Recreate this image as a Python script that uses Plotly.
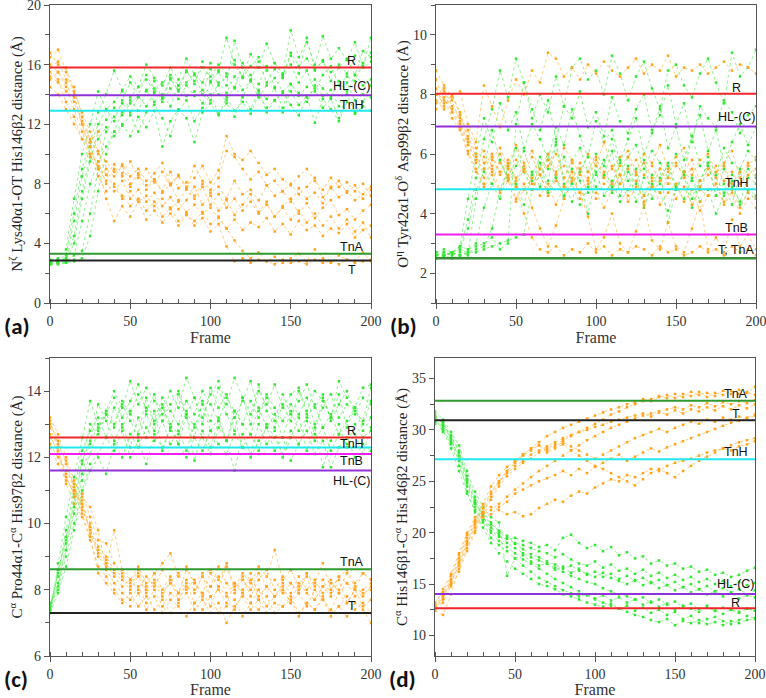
import plotly.graph_objects as go

# frames sampled every 5 steps
frames = list(range(0, 201, 5))

# ---- panel (a): NZ Lys40a1 - OT His146b2 ----
a_green = [
    [2.7, 2.8, 3.0, 5.5, 8.5, 10.5, 12.0, 13.0, 13.5, 14.2, 13.8, 14.5, 15.0, 14.2, 14.8, 15.3, 14.6, 15.5, 14.9, 15.8, 15.2, 16.0, 15.4, 16.3, 15.1, 15.9, 16.5, 15.6, 16.1, 15.3, 16.8, 15.9, 16.4, 15.7, 16.2, 15.5, 16.0, 15.4, 16.6, 15.8, 16.2],
    [2.6, 2.7, 2.9, 4.0, 7.0, 9.5, 11.5, 12.3, 13.1, 12.6, 13.4, 13.9, 13.2, 14.1, 13.5, 14.4, 13.7, 14.6, 13.9, 14.3, 13.6, 14.8, 14.1, 15.2, 14.3, 14.9, 13.8, 14.6, 15.1, 14.2, 14.7, 13.9, 14.5, 15.0, 14.4, 13.8, 14.9, 14.2, 15.3, 14.6, 15.0],
    [2.8, 2.9, 3.2, 6.0, 9.0, 10.8, 12.8, 14.0, 15.6, 14.3, 15.2, 14.5, 16.0, 15.1, 14.6, 15.8, 15.0, 16.4, 15.3, 14.8, 16.1, 15.6, 17.8, 16.0, 15.2, 16.7, 15.8, 17.4, 16.1, 15.4, 18.3, 16.5, 17.5, 16.0, 17.9, 16.4, 17.1, 16.3, 17.5, 15.9, 17.8],
    [2.7, 2.7, 2.8, 3.2, 5.5, 8.0, 9.5, 10.5, 11.5, 12.0, 11.2, 12.5, 11.8, 12.9, 10.5, 12.2, 13.0, 12.4, 10.8, 12.8, 13.4, 12.6, 13.8, 12.9, 13.5, 12.7, 14.0, 13.1, 13.6, 12.8, 14.2, 13.3, 13.9, 12.1, 13.7, 13.0, 12.2, 13.5, 12.7, 13.2, 12.9],
    [2.6, 2.7, 2.7, 2.9, 3.5, 6.0, 9.0, 11.5, 12.5, 13.4, 12.8, 13.8, 14.3, 13.5, 14.0, 13.2, 14.6, 13.9, 14.2, 13.4, 14.8, 14.0, 13.6, 14.5, 13.8, 14.9, 14.2, 13.7, 14.4, 13.1, 14.7, 14.1, 13.5, 14.6, 13.9, 14.3, 13.2, 14.8, 13.6, 14.0, 13.8],
    [2.9, 3.0, 3.6, 7.0, 10.0, 12.0, 14.2, 13.0, 12.2, 13.6, 14.8, 13.9, 15.3, 14.4, 13.8, 15.1, 14.2, 15.6, 14.7, 16.2, 14.9, 15.5, 14.6, 17.6, 15.8, 15.0, 16.2, 14.8, 15.7, 15.2, 16.6, 15.4, 17.8, 15.6, 16.3, 14.9, 15.8, 16.4, 15.3, 16.9, 16.5],
    [2.7, 2.8, 3.0, 4.5, 7.5, 9.8, 11.0, 11.8, 11.2, 11.9, 12.6, 11.5, 12.8, 13.3, 12.4, 11.2, 12.9, 13.6, 12.2, 13.1, 14.0, 12.7, 13.4, 12.5, 13.9, 13.0, 14.3, 12.8, 13.6, 14.1, 13.3, 12.6, 13.8, 14.4, 13.1, 13.7, 12.4, 14.0, 12.8, 13.5, 14.6],
    [2.6, 2.6, 2.7, 2.8, 3.0, 4.5, 7.5, 10.0, 11.5, 12.8, 13.6, 12.9, 14.2, 14.9, 13.7, 15.0, 14.3, 14.8, 15.4, 14.0, 15.7, 14.6, 15.2, 14.4, 16.1, 15.3, 14.7, 15.9, 14.5, 15.1, 16.0, 14.8, 15.6, 14.2, 15.3, 15.9, 14.6, 15.2, 14.9, 16.1, 16.8],
]
a_orange = [
    [16.5, 17.0, 15.5, 14.0, 12.0, 10.5, 9.0, 8.2, 9.0, 8.5, 7.8, 8.6, 7.9, 8.3, 7.5, 8.8, 7.7, 8.1, 7.2, 8.0, 7.4, 7.8, 7.0, 8.2, 7.3, 7.6, 6.9, 7.9, 7.2, 7.5, 6.8, 7.7, 7.0, 7.4, 6.7, 7.8, 7.1, 7.5, 6.9, 7.3, 7.8],
    [15.0, 15.5, 14.5, 13.0, 11.5, 10.0, 9.5, 8.0, 7.5, 8.2, 7.0, 7.6, 6.8, 7.4, 6.5, 7.1, 6.3, 6.9, 7.8, 6.6, 7.2, 6.2, 6.9, 5.9, 6.6, 7.3, 6.1, 6.8, 5.8, 6.5, 7.0, 6.0, 6.7, 5.7, 6.4, 6.9, 5.9, 6.3, 5.6, 6.2, 6.6],
    [15.8, 16.2, 15.0, 14.5, 12.5, 11.0, 10.0, 9.5, 8.8, 9.3, 8.5, 9.0, 8.2, 8.7, 9.4, 8.0, 8.6, 7.8, 8.4, 9.2, 8.1, 8.9, 11.2, 10.0, 9.6, 10.2, 9.4, 8.6, 9.0, 8.3, 7.9, 8.5, 9.0, 8.2, 7.6, 8.4, 7.8, 8.1, 7.5, 8.0, 7.2],
    [14.5, 14.0, 13.0, 12.0, 11.0, 10.5, 9.0, 7.0, 5.5, 6.5, 5.8, 6.8, 5.6, 6.2, 5.4, 6.0, 5.2, 5.9, 5.5, 6.1, 5.3, 5.8, 5.0, 5.6, 4.9, 5.4, 5.1, 5.7, 4.8, 5.3, 4.6, 5.5, 4.9, 5.2, 4.5, 5.0, 4.7, 5.3, 4.4, 4.9, 5.2],
    [16.0, 15.5, 14.8, 13.5, 12.0, 10.0, 8.5, 7.5, 8.0, 7.2, 6.5, 7.0, 6.2, 6.8, 5.8, 6.4, 5.5, 6.0, 5.2, 5.7, 4.8, 5.3, 3.8, 2.8, 3.0, 2.7, 2.9, 2.8, 2.6, 2.9, 2.7, 2.8, 2.6, 2.9, 2.7, 2.8, 2.6, 2.9, 2.7, 2.8, 2.9],
    [15.2, 14.8, 14.2, 13.8, 12.2, 10.8, 11.5, 9.0, 8.5, 9.2, 8.0, 8.7, 7.6, 8.3, 7.4, 8.0, 6.9, 7.6, 7.0, 7.8, 6.6, 7.3, 6.4, 7.0, 6.2, 6.8, 6.0, 6.6, 5.8, 6.4, 5.6, 6.2, 5.4, 6.0, 5.2, 5.8, 5.0, 5.6, 4.8, 5.4, 4.4],
    [16.8, 16.0, 15.8, 14.2, 12.8, 11.5, 10.2, 8.6, 7.8, 7.0, 7.5, 6.8, 7.2, 6.5, 7.0, 6.3, 6.8, 6.1, 6.6, 6.0, 6.4, 5.7, 5.0, 4.2, 3.5, 3.0, 3.4, 2.8, 3.1, 2.7, 3.0, 3.3, 2.8, 3.6, 3.0, 2.7, 3.2, 2.9, 2.8, 3.4, 2.8],
    [15.5, 15.0, 13.5, 12.5, 11.0, 9.8, 9.2, 8.6, 9.3, 8.7, 9.5, 8.4, 9.0, 8.1, 8.8, 7.9, 8.5, 7.7, 9.2, 8.2, 7.6, 8.4, 10.2, 9.8, 9.0, 8.3, 8.8, 7.9, 8.2, 7.5, 8.0, 7.3, 7.8, 8.4, 7.1, 7.7, 8.2, 7.4, 7.9, 7.0, 7.6],
]
a_ref_names = ["R", "HL-(C)", "TnH", "TnA", "T"]
a_ref_values = [15.8, 13.95, 12.9, 3.3, 2.85]

# ---- panel (b): OH Tyr42a1 - OD Asp99b2 ----
b_green = [
    [2.6, 2.7, 2.6, 2.8, 3.5, 4.8, 5.4, 5.0, 5.8, 5.2, 4.9, 5.5, 5.1, 5.7, 4.8, 5.3, 5.9, 5.0, 5.4, 4.7, 5.6, 5.2, 4.9, 5.8, 5.1, 5.5, 4.6, 5.3, 5.0, 5.7, 4.9, 5.4, 5.1, 4.8, 5.6, 5.2, 4.7, 5.3, 5.0, 5.5, 5.2],
    [2.5, 2.6, 2.7, 2.6, 2.7, 2.8, 2.9, 3.5, 4.8, 5.5, 6.2, 5.4, 4.8, 5.7, 5.1, 6.3, 5.0, 4.4, 5.5, 5.9, 4.9, 5.3, 6.1, 4.6, 5.4, 5.0, 5.8, 4.5, 5.2, 5.6, 4.8, 5.3, 4.2, 5.1, 5.7, 4.6, 5.5, 4.9, 4.4, 5.2, 5.0],
    [2.6, 2.6, 2.7, 2.8, 3.8, 5.2, 6.5, 7.5, 8.8, 7.9, 9.2, 8.4, 7.2, 8.0, 7.4, 8.6, 7.6, 8.9, 9.2, 8.5, 8.8, 8.0, 9.3, 8.7, 7.8, 8.6, 9.1, 8.2, 7.5, 8.8, 9.0, 8.3, 7.9, 8.7, 9.2, 8.4, 7.7, 9.4, 8.6, 8.9, 9.5],
    [2.7, 2.6, 2.7, 2.9, 2.8, 3.0, 4.2, 5.0, 4.5, 5.6, 5.0, 4.3, 5.4, 4.9, 6.0, 5.2, 4.6, 5.5, 5.1, 4.0, 5.3, 5.8, 4.7, 5.0, 5.6, 4.4, 5.2, 4.9, 5.5, 3.7, 4.8, 5.4, 4.5, 5.1, 5.7, 4.6, 5.0, 4.3, 5.4, 4.8, 4.6],
    [2.5, 2.6, 2.5, 2.6, 2.8, 2.9, 3.0, 3.2, 2.8, 3.0, 7.0, 8.4, 7.5, 6.8, 7.8, 6.5, 7.6, 7.2, 8.1, 6.9, 7.4, 6.6, 7.9, 7.1, 6.7, 7.5, 8.0, 6.8, 7.3, 8.3, 7.0, 7.7, 6.4, 7.6, 7.2, 6.9, 7.8, 7.4, 6.7, 7.3, 7.6],
    [2.6, 2.7, 2.6, 2.7, 2.6, 4.5, 5.5, 6.8, 5.8, 5.1, 5.6, 6.1, 5.3, 5.9, 5.5, 6.4, 5.2, 5.8, 6.2, 5.4, 6.0, 5.6, 6.5, 5.3, 5.9, 6.3, 5.5, 6.1, 5.7, 5.2, 6.0, 5.4, 6.6, 5.6, 5.9, 5.3, 6.2, 5.7, 5.5, 6.1, 5.8],
    [2.5, 2.6, 2.7, 2.6, 2.7, 2.7, 2.8, 2.9, 3.0, 3.1, 3.2, 3.3, 4.8, 5.3, 4.7, 5.2, 4.5, 5.0, 4.3, 4.9, 5.4, 4.6, 5.1, 4.4, 4.8, 5.3, 4.2, 5.0, 4.7, 4.1, 4.9, 4.5, 5.2, 4.4, 4.8, 4.0, 4.6, 5.1, 4.3, 4.7, 4.5],
    [2.7, 2.8, 2.7, 2.9, 4.5, 6.0, 7.2, 6.4, 7.7, 6.8, 7.4, 6.2, 7.0, 6.5, 5.8, 6.9, 6.3, 7.5, 6.6, 5.9, 7.1, 6.4, 6.8, 5.7, 6.5, 7.2, 6.0, 6.7, 7.6, 6.2, 6.9, 5.8, 6.6, 7.3, 6.1, 6.8, 5.6, 6.4, 7.0, 6.3, 6.9],
]
b_orange = [
    [8.5, 7.8, 7.5, 7.0, 6.3, 5.8, 5.5, 5.9, 5.3, 5.7, 5.2, 5.6, 5.0, 5.5, 5.8, 5.3, 5.6, 5.1, 5.7, 5.4, 5.9, 5.2, 5.6, 5.0, 5.5, 5.8, 5.3, 5.6, 5.1, 5.4, 5.7, 5.2, 5.5, 4.9, 5.3, 5.6, 5.1, 5.4, 5.0, 5.3, 5.5],
    [8.0, 8.2, 7.6, 7.2, 6.8, 6.2, 5.7, 6.0, 5.4, 5.8, 5.1, 5.5, 4.8, 5.3, 4.6, 5.1, 4.9, 5.4, 4.7, 5.2, 4.5, 5.0, 4.8, 5.3, 4.6, 5.1, 4.4, 4.9, 4.7, 5.2, 4.5, 4.9, 4.3, 4.8, 4.6, 5.0, 4.4, 4.8, 4.2, 4.7, 4.5],
    [7.8, 7.5, 8.0, 7.3, 6.5, 5.9, 6.1, 5.6, 6.0, 5.5, 4.9, 4.0, 3.2, 2.8, 2.7, 2.9, 2.6, 2.8, 2.7, 3.0, 2.7, 2.9, 2.6, 2.8, 2.7, 2.9, 2.8, 2.6, 2.9, 2.7, 2.8, 2.6, 2.7, 2.9, 2.7, 2.8, 2.6, 2.9, 2.7, 2.8, 2.6],
    [8.8, 8.3, 7.9, 8.1, 7.0, 6.4, 8.3, 7.6, 6.9, 7.8, 8.5, 8.0, 8.8, 8.4, 9.4, 9.2, 8.6, 8.9, 8.5, 9.0, 8.7, 9.1, 8.8, 8.6, 8.9, 9.2, 8.7, 9.0, 8.8, 9.3, 8.6, 8.9, 8.8, 9.0, 8.7, 8.9, 9.1, 8.8, 9.0, 8.9, 8.7],
    [7.5, 7.9, 7.2, 6.8, 6.0, 5.4, 5.0, 5.5, 4.8, 5.3, 4.5, 5.0, 4.2, 3.5, 2.9, 3.6, 4.5, 5.2, 4.7, 3.9, 2.8, 3.2, 4.0, 3.0, 2.7, 3.4, 4.3, 3.1, 2.8, 3.7, 2.9, 2.7, 3.5, 4.4, 2.8, 3.2, 2.7, 3.8, 2.9, 3.3, 2.8],
    [8.2, 7.6, 8.0, 7.4, 6.6, 6.0, 5.2, 5.8, 6.2, 5.6, 6.3, 5.7, 6.1, 5.5, 6.0, 5.4, 6.2, 5.8, 5.3, 6.0, 5.6, 6.4, 5.5, 5.9, 6.1, 5.4, 6.0, 5.7, 6.3, 5.5, 5.9, 6.2, 5.3, 5.8, 6.0, 5.4, 5.7, 6.1, 5.2, 5.6, 5.9],
    [7.7, 8.1, 7.4, 6.9, 6.1, 5.5, 4.9, 5.3, 4.7, 5.1, 4.4, 4.8, 5.2, 4.6, 5.0, 4.3, 4.9, 5.4, 4.5, 5.0, 4.7, 4.2, 4.8, 5.3, 4.4, 4.9, 4.6, 5.1, 4.3, 4.7, 5.0, 4.4, 4.8, 4.1, 4.6, 5.0, 4.3, 4.7, 4.0, 4.5, 4.2],
    [8.0, 7.7, 7.8, 7.1, 6.4, 5.7, 5.9, 5.4, 5.7, 5.2, 5.8, 5.4, 5.9, 5.3, 5.6, 6.0, 5.2, 5.7, 5.5, 5.1, 5.8, 5.4, 5.0, 5.6, 5.9, 5.3, 5.7, 5.2, 5.5, 5.0, 5.6, 5.4, 5.8, 5.1, 5.5, 5.2, 5.6, 5.0, 5.4, 5.7, 5.3],
]
b_ref_names = ["R", "HL-(C)", "TnH", "TnB", "T", "T; TnA"]
b_ref_values = [8.02, 6.92, 4.82, 3.3, 2.5, 2.5]

# ---- panel (c): CA Pro44a1 - CA His97b2 ----
c_green = [
    [7.4, 8.5, 9.8, 11.0, 12.2, 12.8, 13.2, 12.6, 13.5, 12.9, 13.4, 12.7, 13.8, 13.0, 13.6, 12.8, 13.9, 13.2, 12.6, 13.7, 13.1, 14.1, 13.3, 12.8, 13.8, 13.0, 14.2, 13.4, 12.9, 13.6, 13.1, 14.0, 13.3, 12.7, 13.8, 13.2, 13.9, 12.9, 13.5, 13.0, 13.7],
    [7.5, 8.2, 9.2, 10.5, 11.5, 12.4, 13.6, 13.1, 12.5, 13.0, 12.3, 13.2, 12.6, 13.4, 12.2, 12.9, 12.4, 13.3, 11.9, 12.8, 12.3, 13.1, 12.5, 11.6, 12.7, 12.1, 13.0, 12.4, 12.8, 12.0, 12.6, 13.2, 12.2, 12.9, 11.7, 12.5, 13.0, 12.3, 12.7, 12.1, 12.9],
    [7.3, 8.8, 10.2, 11.4, 12.6, 13.7, 13.0, 13.4, 14.0, 13.5, 14.3, 13.6, 14.1, 13.7, 13.3, 14.0, 13.5, 14.4, 13.8, 13.2, 13.9, 14.3, 13.6, 14.4, 13.8, 13.3, 14.0, 13.6, 14.2, 13.5, 13.9, 14.1, 13.4, 14.0, 13.7, 13.2, 14.3, 13.8, 13.5, 14.1, 14.2],
    [7.6, 8.0, 9.0, 10.0, 11.0, 11.8, 12.1, 12.6, 12.2, 12.8, 12.0, 12.5, 11.8, 12.7, 12.3, 12.9, 12.4, 12.0, 12.6, 12.2, 12.8, 12.4, 12.1, 12.7, 12.3, 12.0, 12.5, 12.9, 12.2, 12.6, 11.9, 12.4, 12.8, 12.1, 12.5, 11.7, 12.3, 12.6, 12.0, 12.4, 12.2],
    [7.4, 8.6, 9.5, 10.8, 11.9, 12.5, 12.9, 13.3, 13.8, 13.2, 13.7, 14.2, 13.4, 13.9, 13.1, 13.6, 14.0, 13.3, 13.8, 13.0, 14.1, 13.5, 13.9, 13.2, 13.7, 14.3, 13.4, 13.8, 13.1, 13.9, 13.3, 13.7, 14.2, 13.5, 13.9, 13.1, 13.6, 14.0, 13.3, 13.8, 13.6],
    [7.3, 7.9, 8.7, 9.8, 10.9, 11.6, 12.0, 11.5, 12.4, 12.0, 12.7, 12.3, 12.9, 12.5, 13.1, 12.4, 12.8, 12.2, 13.0, 12.6, 12.1, 12.9, 12.5, 13.2, 12.3, 12.7, 12.2, 13.0, 12.6, 12.1, 12.8, 12.4, 13.1, 12.5, 12.9, 12.2, 12.7, 12.4, 13.0, 12.6, 12.8],
    [7.5, 8.4, 9.6, 10.6, 11.8, 13.0, 12.7, 13.3, 12.9, 13.6, 13.1, 12.6, 13.3, 12.8, 13.5, 13.0, 12.7, 13.4, 12.9, 13.6, 12.8, 13.2, 12.5, 13.4, 13.0, 12.7, 13.5, 12.9, 13.3, 12.6, 13.4, 12.8, 13.2, 13.6, 12.9, 13.3, 12.7, 13.1, 13.5, 12.8, 13.2],
    [7.4, 8.1, 9.4, 10.3, 11.3, 12.1, 12.8, 13.4, 13.0, 13.7, 13.3, 13.9, 13.5, 13.1, 13.8, 13.4, 13.0, 13.7, 13.3, 14.0, 13.6, 13.1, 13.8, 13.4, 13.0, 13.7, 13.2, 13.9, 13.5, 13.1, 13.6, 13.3, 13.8, 13.0, 13.5, 13.9, 13.2, 13.6, 13.4, 13.1, 14.1],
]
c_orange = [
    [13.0, 12.5, 11.8, 11.0, 10.5, 9.8, 9.2, 8.9, 8.5, 8.3, 8.0, 8.4, 7.9, 8.2, 7.8, 8.3, 7.7, 8.1, 7.9, 8.4, 7.8, 8.0, 7.6, 8.2, 7.9, 8.3, 7.7, 8.1, 7.8, 8.0, 7.6, 8.2, 7.9, 7.7, 8.1, 7.8, 8.3, 7.6, 8.0, 7.8, 8.1],
    [12.6, 12.2, 11.5, 10.8, 10.9, 10.2, 9.5, 9.4, 8.8, 8.5, 8.2, 8.6, 8.1, 8.5, 8.0, 8.4, 7.9, 8.6, 8.2, 7.9, 8.5, 8.1, 8.7, 8.0, 8.4, 7.8, 8.3, 8.6, 8.0, 8.4, 8.2, 7.9, 8.5, 8.1, 8.3, 7.9, 8.4, 8.2, 8.0, 8.5, 8.3],
    [12.9, 12.3, 11.2, 10.6, 10.2, 9.5, 8.7, 8.4, 8.0, 7.7, 7.5, 7.9, 7.4, 7.8, 7.3, 7.7, 7.5, 7.2, 7.6, 7.4, 7.8, 7.3, 7.5, 7.7, 7.2, 7.6, 7.4, 7.8, 7.3, 7.5, 7.7, 7.2, 7.6, 7.4, 7.8, 7.3, 7.5, 7.2, 7.6, 7.4, 7.0],
    [12.4, 12.0, 11.6, 11.2, 10.4, 9.9, 9.0, 8.7, 9.8, 8.6, 8.3, 8.7, 8.2, 8.5, 8.8, 9.1, 8.4, 8.7, 8.2, 8.5, 8.6, 8.3, 8.8, 8.1, 8.5, 8.2, 8.7, 8.4, 9.2, 8.3, 8.6, 8.1, 8.5, 8.2, 8.8, 8.0, 8.4, 8.6, 8.2, 8.5, 8.3],
    [13.2, 12.7, 12.0, 11.3, 10.8, 10.5, 9.8, 8.6, 8.2, 7.9, 7.7, 8.1, 7.6, 8.0, 7.5, 7.9, 7.7, 8.2, 7.6, 7.9, 7.5, 8.1, 7.8, 7.4, 7.9, 7.6, 8.0, 7.5, 7.8, 8.1, 7.6, 7.9, 7.5, 8.0, 7.7, 7.4, 7.9, 7.6, 8.0, 7.5, 7.7],
    [12.7, 12.1, 11.4, 10.9, 10.6, 10.0, 9.3, 9.0, 8.6, 8.4, 8.1, 8.5, 8.0, 8.3, 7.9, 8.2, 8.5, 8.0, 8.3, 7.8, 8.1, 8.4, 7.9, 8.2, 8.0, 8.5, 7.8, 8.1, 8.3, 7.9, 8.2, 8.0, 8.4, 7.7, 8.1, 8.3, 7.9, 8.2, 7.8, 8.0, 8.2],
    [12.3, 11.8, 11.3, 11.0, 10.3, 9.6, 8.5, 8.2, 7.9, 7.6, 7.9, 7.5, 7.8, 7.4, 7.7, 7.3, 7.6, 7.9, 7.4, 7.7, 7.3, 7.6, 7.0, 7.5, 7.8, 7.4, 7.7, 7.3, 7.6, 7.5, 7.8, 7.3, 7.6, 7.4, 7.7, 7.2, 7.5, 7.8, 7.4, 7.6, 7.3],
    [13.1, 12.4, 11.9, 11.1, 10.7, 9.7, 9.1, 8.8, 8.4, 8.1, 8.3, 8.0, 8.4, 8.1, 8.6, 8.2, 7.9, 8.3, 8.0, 8.4, 8.1, 8.7, 8.2, 7.9, 8.3, 8.0, 8.5, 8.1, 7.8, 8.2, 7.9, 8.4, 8.0, 8.3, 7.9, 8.2, 8.0, 8.5, 8.1, 7.9, 8.0],
]
c_ref_names = ["R", "TnH", "TnB", "HL-(C)", "TnA", "T"]
c_ref_values = [12.6, 12.3, 12.1, 11.6, 8.62, 7.3]

# ---- panel (d): CA His146b1 - CA His146b2 ----
d_green = [
    [31.5, 30.5, 29.5, 28.0, 25.5, 23.5, 22.0, 21.0, 20.0, 19.5, 19.0, 18.8, 18.5, 18.2, 18.0, 17.6, 17.9, 17.4, 17.0, 16.8, 17.2, 16.6, 16.9, 16.3, 16.5, 16.0, 16.4, 15.8, 16.1, 15.6, 15.9, 15.4, 15.7, 15.2, 15.5, 15.0, 15.3, 14.8, 15.2, 14.9, 15.1],
    [31.0, 30.8, 29.0, 27.5, 25.0, 23.0, 21.5, 20.5, 19.8, 19.0, 18.5, 18.0, 17.6, 17.3, 17.0, 16.6, 16.2, 15.8, 15.5, 15.2, 15.0, 14.6, 14.3, 14.0, 13.8, 13.5, 13.7, 13.2, 13.5, 13.0, 13.3, 12.8, 13.1, 12.6, 12.9, 12.4, 12.7, 12.5, 12.3, 12.6, 12.4],
    [30.8, 30.2, 28.6, 26.5, 24.5, 22.5, 21.0, 19.5, 18.8, 18.2, 17.5, 17.8, 17.2, 16.8, 17.0, 16.4, 16.7, 16.1, 16.5, 15.9, 16.2, 15.7, 16.0, 15.5, 15.8, 15.3, 15.6, 15.1, 15.4, 14.9, 15.2, 14.7, 15.0, 14.5, 14.8, 14.3, 14.6, 14.2, 14.5, 14.0, 14.4],
    [31.2, 29.8, 28.8, 27.0, 24.0, 22.0, 20.5, 19.0, 18.0, 17.2, 16.5, 16.0, 15.5, 15.0, 14.8, 14.5, 14.0, 13.8, 13.5, 13.2, 13.0, 12.8, 13.1, 12.6, 12.9, 12.4, 12.7, 12.2, 12.5, 12.0, 12.3, 11.6, 11.9, 11.2, 11.6, 11.8, 11.4, 11.1, 11.5, 11.9, 11.7],
    [30.6, 30.0, 28.2, 26.0, 23.8, 22.2, 21.2, 20.2, 19.6, 19.4, 19.5, 19.2, 19.0, 18.6, 18.8, 18.3, 19.5, 19.8, 19.0, 18.5, 18.8, 18.2, 18.6, 17.8, 18.1, 17.5, 17.7, 17.0, 17.3, 16.8, 17.0, 16.5, 16.7, 16.2, 16.4, 15.9, 16.1, 15.7, 15.9, 16.3, 16.6],
    [31.8, 31.0, 29.8, 28.5, 26.0, 24.0, 22.5, 21.5, 21.0, 15.8, 17.5, 16.8, 16.2, 15.6, 15.2, 14.8, 14.4, 14.1, 13.8, 14.0, 13.6, 13.9, 13.4, 13.7, 13.2, 13.5, 13.0, 13.3, 12.8, 13.1, 12.5, 12.9, 12.6, 12.3, 12.7, 12.4, 12.1, 12.5, 12.2, 12.6, 12.4],
    [30.9, 30.4, 29.2, 27.2, 24.8, 22.8, 21.8, 20.8, 20.2, 19.7, 18.9, 18.4, 17.9, 17.6, 17.2, 16.9, 16.5, 16.8, 16.3, 16.0, 15.7, 16.1, 15.6, 15.3, 15.0, 15.4, 14.9, 15.2, 14.6, 14.9, 14.4, 14.7, 14.2, 14.5, 14.0, 14.3, 13.8, 14.1, 13.6, 13.9, 13.7],
    [31.3, 30.6, 29.4, 27.8, 25.2, 23.2, 21.6, 20.0, 19.2, 18.6, 18.0, 17.4, 17.0, 16.5, 16.0, 15.5, 15.1, 14.7, 14.3, 13.9, 13.5, 13.2, 12.9, 12.6, 12.3, 12.0, 11.8, 11.5, 11.3, 11.6, 11.0, 11.4, 11.2, 11.5, 11.1, 11.3, 11.0, 11.4, 11.2, 11.5, 11.6],
]
d_orange = [
    [12.8, 14.0, 15.5, 17.5, 19.5, 21.0, 22.5, 24.0, 25.0, 25.8, 26.5, 27.0, 27.6, 28.0, 28.4, 28.8, 29.2, 29.5, 29.8, 30.0, 30.3, 30.5, 30.8, 31.0, 31.2, 31.4, 31.6, 31.3, 31.7, 31.5, 31.9, 31.6, 32.0, 31.8, 32.2, 31.9, 32.3, 32.0, 32.4, 32.1, 32.5],
    [12.5, 13.5, 15.0, 17.0, 19.0, 20.5, 22.0, 23.2, 24.5, 25.5, 26.2, 26.8, 27.2, 27.8, 28.2, 28.6, 29.0, 29.4, 29.8, 30.2, 30.6, 31.0, 31.5, 31.8, 32.2, 32.5, 32.8, 33.0, 33.3, 33.1, 33.5, 33.2, 33.7, 33.4, 33.6, 33.3, 33.8, 33.5, 33.9, 33.6, 34.2],
    [13.0, 14.5, 16.0, 18.0, 20.0, 21.5, 22.0, 22.5, 22.2, 21.8, 22.0, 21.6, 21.8, 22.4, 22.8, 23.2, 23.0, 23.6, 24.0, 23.8, 24.4, 24.8, 25.2, 25.0, 25.6, 25.4, 25.8, 26.2, 26.0, 26.5, 26.8, 27.0, 27.2, 27.5, 27.8, 28.0, 28.2, 28.5, 28.8, 29.0, 29.2],
    [12.6, 13.8, 15.2, 16.8, 18.8, 20.8, 22.4, 23.8, 25.0, 26.0, 26.8, 27.5, 28.0, 28.5, 27.8, 28.2, 28.6, 28.0, 27.5, 27.0, 26.5, 26.2, 25.8, 25.4, 25.0, 24.6, 25.2, 25.8, 26.2, 25.8, 25.4, 26.0, 26.5, 27.0, 27.4, 27.8, 28.2, 28.0, 28.4, 28.6, 28.9],
    [12.4, 12.0, 14.0, 16.5, 18.5, 20.2, 22.0, 23.5, 24.8, 26.0, 26.8, 27.6, 28.2, 28.8, 29.4, 29.8, 30.2, 30.5, 30.8, 31.1, 31.4, 31.7, 32.0, 32.2, 32.5, 32.7, 33.0, 32.8, 33.2, 33.4, 33.1, 33.5, 33.3, 33.7, 33.2, 33.6, 33.4, 33.8, 33.5, 33.7, 33.4],
    [13.2, 14.2, 15.8, 17.8, 19.8, 21.2, 22.8, 24.5, 25.6, 26.4, 27.0, 27.6, 28.2, 28.5, 28.0, 28.4, 28.8, 28.4, 28.0, 27.6, 27.2, 27.6, 28.0, 28.4, 28.8, 29.2, 29.5, 29.8, 30.1, 29.8, 30.2, 30.5, 30.8, 30.6, 31.0, 30.8, 31.2, 31.0, 31.3, 31.1, 31.4],
    [12.7, 13.2, 14.8, 16.2, 18.2, 20.0, 21.8, 22.2, 22.8, 23.5, 24.2, 24.8, 25.4, 26.0, 26.5, 27.0, 27.5, 28.0, 28.5, 29.0, 29.4, 29.8, 30.2, 30.5, 30.8, 31.1, 31.4, 31.6, 31.8, 32.0, 32.2, 32.0, 32.4, 32.2, 32.6, 32.3, 32.7, 32.5, 32.8, 32.6, 32.9],
    [12.9, 13.6, 15.3, 17.2, 19.2, 21.0, 21.5, 21.8, 22.5, 23.0, 23.8, 24.2, 24.6, 25.0, 25.3, 25.6, 26.0, 25.6, 26.2, 25.8, 26.4, 26.8, 27.2, 27.6, 27.0, 27.4, 27.8, 28.2, 27.9, 28.3, 28.6, 28.9, 29.2, 29.5, 29.8, 30.1, 30.4, 30.7, 30.9, 31.2, 31.5],
]
d_ref_names = ["TnA", "T", "TnH", "HL-(C)", "R"]
d_ref_values = [32.85, 30.95, 27.15, 14.03, 12.65]

ref_colors = {
    "R": "#f0262a",
    "HL-(C)": "#9131d9",
    "TnH": "#1fe8ee",
    "TnA": "#2f9a2f",
    "T": "#222222",
    "TnB": "#f01cf0",
    "T; TnA": "#2f9a2f",
}

# vertical offset of each line label, in pixels (+ above the line, - below)
a_label_shift = [7, 9, 6, 7, -9]
b_label_shift = [6, 10, 6, 6, 0, 8]
c_label_shift = [6, 3, -7, -10, 7, 7]
d_label_shift = [7, 6, 7, 10, 5]

GREEN = "#33e633"
GREEN_LINE = "rgba(51, 230, 51, 0.7)"
ORANGE = "#ffa31a"
ORANGE_LINE = "rgba(255, 163, 26, 0.7)"
SERIF = "Liberation Serif, Times New Roman, serif"
SANS = "Liberation Sans, Arial, sans-serif"

W, H = 766, 698

panels = [
    dict(letter="(a)", n="", xpx=(50, 371), ypx=(5, 303), yr=(0, 20), dy=4, mdy=2,
         title="N<sup>ζ</sup> Lys40α1-OT His146β2 distance (Å)",
         green=a_green, orange=a_orange, names=a_ref_names, vals=a_ref_values, shift=a_label_shift),
    dict(letter="(b)", n="2", xpx=(436, 756), ypx=(5, 303), yr=(1, 11), dy=2, mdy=1,
         title="O<sup>η</sup> Tyr42α1-O<sup>δ</sup> Asp99β2 distance (Å)",
         green=b_green, orange=b_orange, names=b_ref_names, vals=b_ref_values, shift=b_label_shift),
    dict(letter="(c)", n="3", xpx=(50, 371), ypx=(358, 656), yr=(6, 15), dy=2, mdy=1,
         title="C<sup>α</sup> Pro44α1-C<sup>α</sup> His97β2 distance (Å)",
         green=c_green, orange=c_orange, names=c_ref_names, vals=c_ref_values, shift=c_label_shift),
    dict(letter="(d)", n="4", xpx=(435, 755), ypx=(358, 656), yr=(8, 37), dy=5, mdy=2.5,
         title="C<sup>α</sup> His146β1-C<sup>α</sup> His146β2 distance (Å)",
         green=d_green, orange=d_orange, names=d_ref_names, vals=d_ref_values, shift=d_label_shift),
]

fig = go.Figure()
annotations = []
layout_axes = {}

for p in panels:
    xa, ya = "x" + p["n"], "y" + p["n"]

    # trajectories
    for group, col, lcol in ((p["green"], GREEN, GREEN_LINE), (p["orange"], ORANGE, ORANGE_LINE)):
        for traj in group:
            fig.add_trace(go.Scatter(
                x=frames, y=traj, xaxis=xa, yaxis=ya, mode="lines+markers",
                line=dict(color=lcol, width=0.8, dash="dot"),
                marker=dict(color=col, size=2.5, symbol="square"),
                showlegend=False, hoverinfo="skip"))

    # reference structure lines (T; TnA drawn last so the green shows on top)
    order = sorted(range(len(p["names"])), key=lambda i: p["names"][i] == "T; TnA")
    for i in order:
        name, val = p["names"][i], p["vals"][i]
        fig.add_trace(go.Scatter(
            x=[frames[0], frames[-1]], y=[val, val], xaxis=xa, yaxis=ya, mode="lines",
            line=dict(color=ref_colors[name], width=2), showlegend=False, hoverinfo="skip"))

    # labels of reference lines
    for name, val, sh in zip(p["names"], p["vals"], p["shift"]):
        if p["letter"] == "(b)" and name == "T":
            continue
        annotations.append(dict(
            x=188, y=val, xref=xa, yref=ya, text=name, showarrow=False,
            xanchor="center", yanchor="middle", yshift=sh,
            font=dict(family=SANS, size=12.5, color="#111")))

    dom_x = [p["xpx"][0] / W, p["xpx"][1] / W]
    dom_y = [1 - p["ypx"][1] / H, 1 - p["ypx"][0] / H]
    axis_common = dict(showline=True, linecolor="#555", linewidth=1.3, mirror=True,
                       showgrid=False, zeroline=False, ticks="outside", ticklen=5,
                       tickcolor="#555", tickwidth=1, automargin=False,
                       ticklabeloverflow="allow",
                       tickfont=dict(family=SERIF, size=14, color="#333"))
    layout_axes["xaxis" + p["n"]] = dict(
        axis_common, domain=dom_x, anchor=ya, range=[0, 200],
        tickmode="linear", tick0=0, dtick=50,
        minor=dict(ticks="inside", ticklen=4, tickcolor="#555", dtick=10, tick0=0),
        title=dict(text="Frame", font=dict(family=SERIF, size=16, color="#333"), standoff=0))
    layout_axes["yaxis" + p["n"]] = dict(
        axis_common, domain=dom_y, anchor=xa, range=list(p["yr"]),
        tickmode="linear", tick0=0, dtick=p["dy"],
        minor=dict(ticks="outside", ticklen=4, tickcolor="#555", dtick=p["mdy"], tick0=0),
        title=dict(text=p["title"], font=dict(family=SERIF, size=15, color="#222"), standoff=0))

    # panel letter
    annotations.append(dict(
        x=(p["xpx"][0] - 48) / W, y=1 - (p["ypx"][1] + 23) / H, xref="paper", yref="paper",
        text="<b>" + p["letter"] + "</b>", showarrow=False, xanchor="left", yanchor="middle",
        font=dict(family="Carlito, Open Sans, Liberation Sans, sans-serif", size=23, color="#111")))

fig.update_layout(
    width=W, height=H,
    margin=dict(l=0, r=0, t=0, b=0),
    paper_bgcolor="white", plot_bgcolor="white",
    annotations=annotations,
    **layout_axes,
)

# the page's default body margin would shift the figure by 8 px
fig.write_html("out.html", config={"displayModeBar": False},
               post_script="document.body.style.margin = '0';")
